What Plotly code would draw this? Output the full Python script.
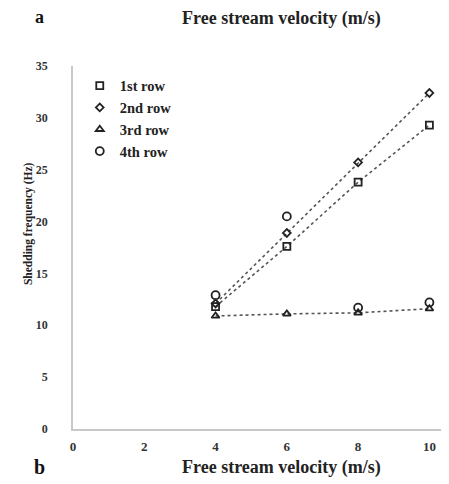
import plotly.graph_objects as go

velocity = [4, 6, 8, 10]
row1 = [11.8, 17.6, 23.8, 29.3]
row2 = [12.1, 18.9, 25.7, 32.4]
row3 = [10.9, 11.1, 11.2, 11.6]
row4 = [12.9, 20.5, 11.7, 12.2]
names = ["1st row", "2nd row", "3rd row", "4th row"]
symbols = ["square-open", "diamond-open", "triangle-up-open", "circle-open"]
sizes = [7, 6, 7, 8]
with_line = [True, True, True, False]

x_ticks = [0, 2, 4, 6, 8, 10]
y_ticks = [0, 5, 10, 15, 20, 25, 30, 35]

SERIF = "Liberation Serif"
INK = "#333333"

fig = go.Figure()
series = [row1, row2, row3, row4]
for vals, w in zip(series, with_line):
    if w:
        fig.add_trace(go.Scatter(x=velocity, y=vals, mode="lines", showlegend=False,
                                 line=dict(color="#555555", width=1.6, dash="dot"),
                                 hoverinfo="skip"))
for vals, n, s, sz in zip(series, names, symbols, sizes):
    fig.add_trace(go.Scatter(x=velocity, y=vals, mode="markers", name=n,
                             marker=dict(symbol=s, size=sz, color="#222222",
                                         line=dict(width=1.8, color="#222222"))))

title_font = dict(family=SERIF, size=18, color="#222222", weight="bold")
fig.update_layout(
    width=441, height=476,
    margin=dict(l=65, r=0, t=58, b=55, autoexpand=False),
    paper_bgcolor="white", plot_bgcolor="white",
    font=dict(family=SERIF, color=INK),
    showlegend=True,
    legend=dict(x=0.018, y=0.99, xanchor="left", yanchor="top",
                font=dict(family=SERIF, size=14.5, color="#222222", weight="bold"),
                bgcolor="rgba(0,0,0,0)", itemwidth=30, tracegroupgap=0),
    xaxis=dict(range=[0, 10.55], tickvals=x_ticks, ticktext=[str(t) for t in x_ticks],
               showgrid=False, zeroline=False, showline=True, linecolor="#c8c8c8",
               linewidth=1.5, ticks="", ticklabelstandoff=5, automargin=False,
               tickfont=dict(family=SERIF, size=13, color=INK, weight="bold")),
    yaxis=dict(range=[0, 35], tickvals=y_ticks, ticktext=[str(t) for t in y_ticks],
               showgrid=False, zeroline=False, showline=True, linecolor="#c8c8c8",
               linewidth=1.5, ticks="", ticklabelstandoff=21, automargin=False,
               tickfont=dict(family=SERIF, size=12, color=INK, weight="bold")),
    annotations=[
        dict(text="Free stream velocity (m/s)", x=0.555, y=1.132, xref="paper", yref="paper",
             xanchor="center", yanchor="middle", showarrow=False, font=title_font),
        dict(text="Free stream velocity (m/s)", x=0.555, y=-0.105, xref="paper", yref="paper",
             xanchor="center", yanchor="middle", showarrow=False, font=title_font),
        dict(text="a", x=-0.088, y=1.134, xref="paper", yref="paper", showarrow=False,
             xanchor="center", yanchor="middle",
             font=dict(family=SERIF, size=18, color="#111111", weight="bold")),
        dict(text="b", x=-0.088, y=-0.105, xref="paper", yref="paper", showarrow=False,
             xanchor="center", yanchor="middle",
             font=dict(family=SERIF, size=20, color="#111111", weight="bold")),
        dict(text="Shedding frequency (Hz)", x=-0.12, y=0.567, xref="paper", yref="paper",
             xanchor="center", yanchor="middle", showarrow=False, textangle=-90,
             font=dict(family=SERIF, size=11.5, color="#222222", weight="bold")),
    ],
)

fig.write_html("out.html")
